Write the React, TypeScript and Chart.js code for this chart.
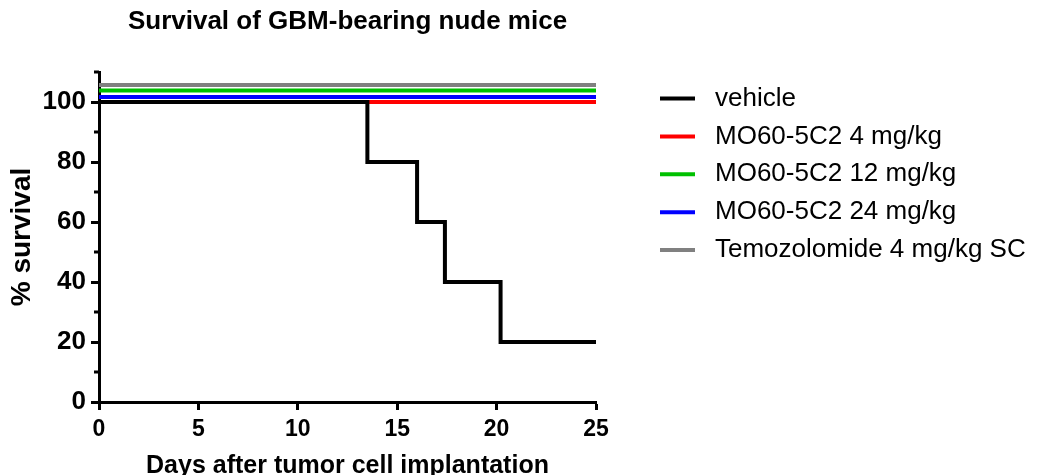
import React, { useEffect, useRef } from 'react';
import { Chart, registerables } from 'chart.js';

Chart.register(...registerables);

// ---------- data ----------
const titleText = 'Survival of GBM-bearing nude mice';
const xAxisTitle = 'Days after tumor cell implantation';
const yAxisTitle = '% survival';

const seriesLabels = [
  'vehicle',
  'MO60-5C2 4 mg/kg',
  'MO60-5C2 12 mg/kg',
  'MO60-5C2 24 mg/kg',
  'Temozolomide 4 mg/kg SC',
];
const seriesColors = ['#000000', '#ff0000', '#00c000', '#0000ff', '#808080'];

const vehicleDays = [0, 13.5, 16, 17.4, 20.2, 25];
const vehicleSurvival = [100, 80, 60, 40, 20, 20];
const mo4Days = [0, 25];
const mo4Survival = [100, 100];
const mo12Days = [0, 25];
const mo12Survival = [100, 100];
const mo24Days = [0, 25];
const mo24Survival = [100, 100];
const tmzDays = [0, 25];
const tmzSurvival = [100, 100];

const xTickValues = [0, 5, 10, 15, 20, 25];
const yTickValues = [0, 20, 40, 60, 80, 100];
const yMinorTickValues = [10, 30, 50, 70, 90, 110];

// GraphPad-style vertical nudge so overlapping 100% curves stay visible (display only)
const seriesNudge = [0, 0, 3.8, 1.7, 5.7];

const FONT = "Arial, 'Liberation Sans', Helvetica, sans-serif";

function toPoints(xs: number[], ys: number[], nudge: number) {
  return xs.map((x, i) => ({ x, y: ys[i] + nudge }));
}

const minorTickPlugin = {
  id: 'minorTicks',
  afterDraw(chart: any) {
    const { ctx } = chart;
    const y = chart.scales.y;
    ctx.save();
    ctx.strokeStyle = '#000';
    ctx.lineWidth = 3;
    yMinorTickValues.forEach((v) => {
      const py = y.getPixelForValue(v);
      ctx.beginPath();
      ctx.moveTo(chart.chartArea.left - 5, py);
      ctx.lineTo(chart.chartArea.left, py);
      ctx.stroke();
    });
    ctx.restore();
  },
};

const sideLegendPlugin = {
  id: 'sideLegend',
  afterDraw(chart: any) {
    const { ctx } = chart;
    const lineX0 = 660;
    const lineX1 = 695;
    const textX = 715;
    const rowY0 = 98.5;
    const rowGap = 37.9;
    ctx.save();
    chart.data.datasets.forEach((ds: any, i: number) => {
      const yy = rowY0 + i * rowGap;
      ctx.strokeStyle = ds.borderColor;
      ctx.lineWidth = 4;
      ctx.beginPath();
      ctx.moveTo(lineX0, yy);
      ctx.lineTo(lineX1, yy);
      ctx.stroke();
      ctx.fillStyle = '#000';
      ctx.font = `26px ${FONT}`;
      ctx.textBaseline = 'middle';
      ctx.textAlign = 'left';
      ctx.fillText(ds.label, textX, yy);
    });
    ctx.restore();
  },
};

export default function App() {
  const canvasRef = useRef<HTMLCanvasElement | null>(null);

  useEffect(() => {
    if (!canvasRef.current) return;
    const allDays = [vehicleDays, mo4Days, mo12Days, mo24Days, tmzDays];
    const allSurv = [vehicleSurvival, mo4Survival, mo12Survival, mo24Survival, tmzSurvival];

    const chart = new Chart(canvasRef.current, {
      type: 'line',
      data: {
        datasets: seriesLabels.map((label, i) => ({
          label,
          data: toPoints(allDays[i], allSurv[i], seriesNudge[i]),
          borderColor: seriesColors[i],
          backgroundColor: seriesColors[i],
          borderWidth: 4,
          pointRadius: 0,
          stepped: 'before' as const,
          fill: false,
          borderCapStyle: 'butt' as const,
          borderJoinStyle: 'miter' as const,
          clip: 4,
        })),
      },
      options: {
        animation: false,
        responsive: false,
        devicePixelRatio: 1,
        layout: { padding: { left: 0, right: 449, top: 0, bottom: 0 } },
        plugins: {
          legend: { display: false },
          tooltip: { enabled: false },
          title: {
            display: true,
            text: titleText,
            fullSize: false,
            color: '#000',
            font: { family: FONT, size: 26, weight: 'bold', lineHeight: 1.2 },
            padding: { top: 6, bottom: 34.8 },
          },
        },
        scales: {
          x: {
            type: 'linear',
            min: 0,
            max: 25,
            afterBuildTicks: (scale: any) => {
              scale.ticks = xTickValues.map((v) => ({ value: v }));
            },
            afterFit: (scale: any) => {
              scale.height = 73;
            },
            ticks: {
              color: '#000',
              font: { family: FONT, size: 23, weight: 'bold' },
              padding: 6,
              maxRotation: 0,
              autoSkip: false,
            },
            grid: {
              drawOnChartArea: false,
              drawTicks: true,
              tickLength: 8,
              tickWidth: 3,
              tickColor: '#000',
            },
            border: { display: true, color: '#000', width: 3 },
            title: {
              display: true,
              text: xAxisTitle,
              color: '#000',
              font: { family: FONT, size: 25, weight: 'bold', lineHeight: 1 },
              padding: { top: 0, bottom: -3.5 },
            },
          },
          y: {
            type: 'linear',
            min: 0,
            max: 110,
            afterBuildTicks: (scale: any) => {
              scale.ticks = yTickValues.map((v) => ({ value: v }));
            },
            afterFit: (scale: any) => {
              scale.width = 99;
            },
            ticks: {
              color: '#000',
              font: { family: FONT, size: 26, weight: 'bold' },
              padding: 5,
              autoSkip: false,
            },
            grid: {
              drawOnChartArea: false,
              drawTicks: true,
              tickLength: 8,
              tickWidth: 3,
              tickColor: '#000',
            },
            border: { display: true, color: '#000', width: 3 },
            title: {
              display: true,
              text: yAxisTitle,
              color: '#000',
              font: { family: FONT, size: 28, weight: 'bold', lineHeight: 1.2 },
              padding: { top: 5, bottom: 0 },
            },
          },
        },
      },
      plugins: [minorTickPlugin, sideLegendPlugin],
    } as any);

    return () => chart.destroy();
  }, []);

  return (
    <div style={{ position: 'fixed', left: 0, top: 0, width: 1045, height: 475, background: '#fff' }}>
      <canvas ref={canvasRef} width={1045} height={475} style={{ width: 1045, height: 475 }} />
    </div>
  );
}
